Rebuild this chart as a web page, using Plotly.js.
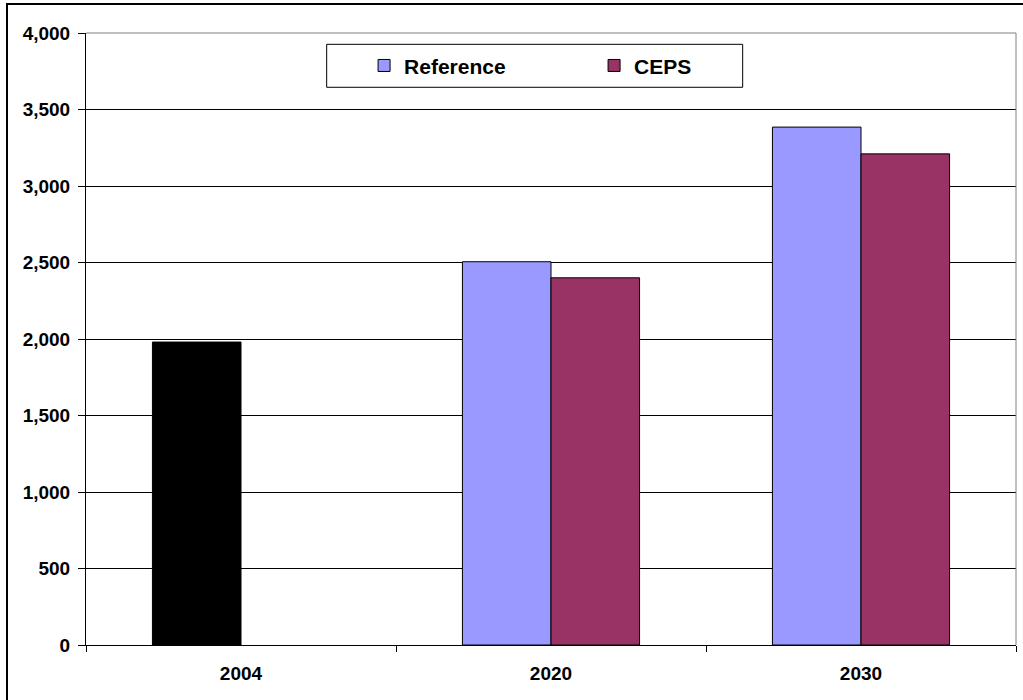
<!DOCTYPE html>
<html>
<head>
<meta charset="utf-8">
<script src="https://cdn.plot.ly/plotly-3.0.1.min.js"></script>
<style>
  html, body { margin: 0; padding: 0; background: #fff; overflow: hidden; }
  #wrap { position: relative; width: 1023px; height: 700px; }
  #chart { position: absolute; left: 0; top: 0; width: 1023px; height: 700px; }
  #frame { position: absolute; left: 6px; top: 3px; width: 1100px; height: 800px;
           border-left: 2px solid #000; border-top: 2px solid #000; pointer-events: none; }
</style>
</head>
<body>
<div id="wrap">
  <div id="chart"></div>
  <div id="frame"></div>
</div>
<script>
// Category labels along the x axis
const years = ['2004', '2020', '2030'];

// Base-year value (drawn in black, in the Reference slot)
const baseYear = ['2004'];
const baseValue = [1980];

// Projection scenarios
const projYears = ['2020', '2030'];
const referenceValues = [2505, 3385];
const cepsValues = [2400, 3210];

// Series names shown in the legend
const seriesNames = ['Reference', 'CEPS'];

const FONT = 'Liberation Sans, Arial, Helvetica, sans-serif';
const edge = { color: '#000000', width: 1 };

const traces = [
  {
    type: 'bar', x: baseYear, y: baseValue, offsetgroup: 'ref',
    marker: { color: '#000000', line: edge }, showlegend: false, hoverinfo: 'x+y'
  },
  {
    type: 'bar', name: seriesNames[0], x: projYears, y: referenceValues, offsetgroup: 'ref',
    marker: { color: '#9999FF', line: edge }
  },
  {
    type: 'bar', name: seriesNames[1], x: projYears, y: cepsValues, offsetgroup: 'ceps',
    marker: { color: '#993366', line: edge }
  }
];

const layout = {
  width: 1023, height: 700,
  margin: { l: 86, r: 7, t: 33, b: 55, pad: 0 },
  paper_bgcolor: '#ffffff', plot_bgcolor: '#ffffff',
  barmode: 'group', bargap: 0.4286, bargroupgap: 0,
  font: { family: FONT, color: '#000' },
  xaxis: {
    type: 'category', categoryorder: 'array', categoryarray: years,
    range: [-0.5, 2.5],
    showline: true, linecolor: '#000', linewidth: 1,
    ticks: 'outside', tickson: 'boundaries', ticklen: 6, tickcolor: '#000', tickwidth: 1,
    showgrid: false, zeroline: false,
    tickfont: { family: FONT, size: 19, weight: 'bold', color: '#000' },
    ticklabelstandoff: 11
  },
  yaxis: {
    range: [0, 4000], dtick: 500, tick0: 0, tickformat: ',d',
    showline: true, linecolor: '#000', linewidth: 1,
    ticks: 'outside', ticklen: 7, tickcolor: '#000', tickwidth: 1,
    showgrid: true, gridcolor: '#000', gridwidth: 1, zeroline: false,
    tickfont: { family: FONT, size: 19, weight: 'bold', color: '#000' },
    ticklabelstandoff: 4
  },
  showlegend: true,
  legend: {
    orientation: 'h', x: 0.299, xanchor: 'left', y: 0.9464, yanchor: 'middle',
    bgcolor: 'rgba(0,0,0,0)', borderwidth: 0,
    entrywidth: 185, entrywidthmode: 'pixels',
    font: { family: FONT, size: 21, weight: 'bold', color: '#000' },
    traceorder: 'normal'
  },
  shapes: [
    // plot-area border on the top and right sides
    { type: 'path', xref: 'paper', yref: 'paper', path: 'M0,1 L1,1 L1,0',
      line: { color: '#808080', width: 1 }, layer: 'above' },
    // legend box
    { type: 'rect', xref: 'paper', yref: 'paper', x0: 0.2588, x1: 0.7061, y0: 0.9113, y1: 0.9815,
      fillcolor: '#ffffff', line: { color: '#000', width: 1 }, layer: 'above' }
  ]
};

Plotly.newPlot('chart', traces, layout, { displayModeBar: false, staticPlot: true });
</script>
</body>
</html>
